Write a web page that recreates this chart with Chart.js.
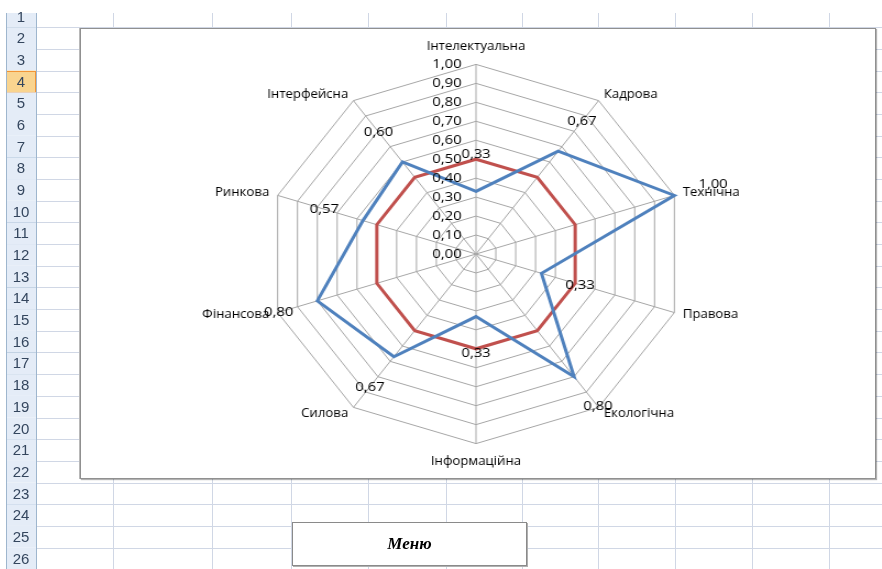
<!DOCTYPE html>
<html>
<head>
<meta charset="utf-8">
<script src="https://cdn.jsdelivr.net/npm/chart.js@4.4.0/dist/chart.umd.min.js"></script>
<style>
  html, body { margin: 0; padding: 0; background: #fff; overflow: hidden; }
  #sheet { position: absolute; left: 0; top: 0; }
  #chartBox {
    position: absolute; left: 80px; top: 28px; width: 794px; height: 449px;
    background: #fff; border: 1px solid #909090;
    box-shadow: 1px 1px 1px rgba(0,0,0,0.3), -1px 0 0 #b8b8b8;
    overflow: hidden;
  }
  #stretch {
    position: absolute; left: -1px; top: 1px; width: 721px; height: 448px;
    transform: scaleX(1.1); transform-origin: 0 0;
  }
  #menu {
    position: absolute; left: 292px; top: 522px; width: 233px; height: 42px;
    background: #fff; border: 1px solid #8a8a8a;
    box-shadow: 1px 1px 0 #b0b0b0;
    font: bold italic 17px "Liberation Serif", serif;
    display: flex; align-items: center; justify-content: center;
  }
</style>
</head>
<body>
<canvas id="sheet" width="882" height="569"></canvas>
<div id="chartBox"><div id="stretch"><canvas id="myChart"></canvas></div></div>
<div id="menu">Меню</div>
<script>
const categories = ['Інтелектуальна', 'Кадрова', 'Технічна', 'Правова', 'Екологічна',
                    'Інформаційна', 'Силова', 'Фінансова', 'Ринкова', 'Інтерфейсна'];
const actual = [0.33, 0.67, 1.00, 0.33, 0.80, 0.33, 0.67, 0.80, 0.57, 0.60];
const threshold = [0.50, 0.50, 0.50, 0.50, 0.50, 0.50, 0.50, 0.50, 0.50, 0.50];
const rowLabels = ['1','2','3','4','5','6','7','8','9','10','11','12','13',
                   '14','15','16','17','18','19','20','21','22','23','24','25','26'];
const colLines = [113, 212, 291, 368, 446, 522, 598, 675, 752, 829];

function drawSheet()
{
    const ctx = document.getElementById('sheet').getContext('2d');
    const rowH = 21.68;
    const top0 = 5.6;
    ctx.fillStyle = '#fff';
    ctx.fillRect(0, 0, 882, 569);
    // cell grid
    ctx.strokeStyle = '#d0d7e5';
    ctx.lineWidth = 1;
    rowLabels.forEach((r, i) =>
    {
        const y = Math.round(top0 + rowH * (i + 1)) + 0.5;
        ctx.beginPath(); ctx.moveTo(36, y); ctx.lineTo(882, y); ctx.stroke();
    });
    colLines.forEach(x =>
    {
        ctx.beginPath(); ctx.moveTo(x + 0.5, 13); ctx.lineTo(x + 0.5, 569); ctx.stroke();
    });
    // row headers
    rowLabels.forEach((r, i) =>
    {
        const y0 = Math.max(13, top0 + rowH * i);
        const y1 = top0 + rowH * (i + 1);
        const sel = r === '4';
        ctx.fillStyle = sel ? '#f9d48f' : '#e4ecf7';
        ctx.fillRect(6, y0, 30, y1 - y0);
        ctx.strokeStyle = sel ? '#f29536' : '#9eb6ce';
        ctx.beginPath(); ctx.moveTo(6, Math.round(y1) + 0.5); ctx.lineTo(36, Math.round(y1) + 0.5); ctx.stroke();
        if (sel)
        {
            ctx.strokeRect(6.5, Math.round(y0) + 0.5, 29, Math.round(y1 - y0));
        }
        ctx.fillStyle = '#34465e';
        ctx.font = '15px "Liberation Sans Narrow", "Liberation Sans", sans-serif';
        ctx.textAlign = 'center';
        ctx.textBaseline = 'middle';
        ctx.fillText(r, 21, (top0 + rowH * i + y1) / 2 + 1);
    });
    ctx.strokeStyle = '#9eb6ce';
    ctx.beginPath(); ctx.moveTo(36.5, 13); ctx.lineTo(36.5, 569); ctx.stroke();
    ctx.beginPath(); ctx.moveTo(6.5, 13); ctx.lineTo(6.5, 569); ctx.stroke();
}

function fmt(v)
{
    return v.toFixed(2).replace('.', ',');
}

// tick labels to the left of the vertical axis, Excel style
const tickLabelsPlugin = {
    id: 'tickLabels',
    afterDatasetsDraw(chart)
    {
        const scale = chart.scales.r;
        const ctx = chart.ctx;
        ctx.save();
        ctx.font = '13.5px "Open Sans", sans-serif';
        ctx.fillStyle = '#000';
        ctx.textAlign = 'right';
        ctx.textBaseline = 'middle';
        scale.ticks.forEach(t =>
        {
            const d = scale.getDistanceFromCenterForValue(t.value);
            ctx.fillText(fmt(t.value), scale.xCenter - 13, scale.yCenter - d);
        });
        ctx.restore();
    }
};

// category names placed the way Excel does: side labels hug the vertex
const categoryLabelsPlugin = {
    id: 'categoryLabels',
    afterDatasetsDraw(chart)
    {
        const scale = chart.scales.r;
        const ctx = chart.ctx;
        ctx.save();
        ctx.font = '12px "Open Sans", sans-serif';
        ctx.fillStyle = '#000';
        categories.forEach((name, i) =>
        {
            const topOrBottom = i === 0 || i === categories.length / 2;
            const p = scale.getPointPosition(i, scale.drawingArea + (topOrBottom ? 12 : 8));
            if (i === 0)
            {
                ctx.textAlign = 'center'; ctx.textBaseline = 'bottom';
            }
            else if (topOrBottom)
            {
                ctx.textAlign = 'center'; ctx.textBaseline = 'top';
            }
            else
            {
                ctx.textAlign = p.x > scale.xCenter ? 'left' : 'right';
                ctx.textBaseline = 'middle';
            }
            ctx.fillText(name, p.x, p.y);
        });
        ctx.restore();
    }
};

// value labels for the first series, offset outward from each point
const dataLabelsPlugin = {
    id: 'dataLabels',
    afterDatasetsDraw(chart)
    {
        const scale = chart.scales.r;
        const ctx = chart.ctx;
        ctx.save();
        ctx.font = '13.5px "Open Sans", sans-serif';
        ctx.fillStyle = '#000';
        ctx.textAlign = 'center';
        ctx.textBaseline = 'middle';
        actual.forEach((v, i) =>
        {
            const p = scale.getPointPosition(i, scale.getDistanceFromCenterForValue(v) + 37);
            ctx.fillText(fmt(v), p.x, p.y);
        });
        ctx.restore();
    }
};

function addChart()
{
    const ctx = document.getElementById('myChart').getContext('2d');
    new Chart(ctx, {
        type: 'radar',
        data: {
            labels: categories,
            datasets: [{
                label: 'Фактичний рівень',
                data: actual,
                fill: false,
                borderColor: '#4f81bd',
                borderWidth: 3,
                pointRadius: 0,
                tension: 0
            }, {
                label: 'Пороговий рівень',
                data: threshold,
                fill: false,
                borderColor: '#c0504d',
                borderWidth: 3,
                pointRadius: 0,
                tension: 0
            }]
        },
        options: {
            responsive: true,
            maintainAspectRatio: false,
            animation: false,
            layout: { padding: { top: 10, bottom: 10 } },
            plugins: {
                legend: { display: false },
                tooltip: { enabled: false }
            },
            scales: {
                r: {
                    min: 0,
                    max: 1,
                    ticks: { stepSize: 0.1, display: false },
                    grid: { color: '#a6a6a6', lineWidth: 1, circular: false },
                    angleLines: { color: '#a6a6a6', lineWidth: 1 },
                    pointLabels: {
                        // kept for the layout fit, drawn by categoryLabelsPlugin
                        color: 'rgba(0,0,0,0)',
                        font: { family: '"Open Sans", sans-serif', size: 12 },
                        padding: 10
                    }
                }
            }
        },
        plugins: [tickLabelsPlugin, categoryLabelsPlugin, dataLabelsPlugin]
    });
}

drawSheet();
addChart();
</script>
</body>
</html>
